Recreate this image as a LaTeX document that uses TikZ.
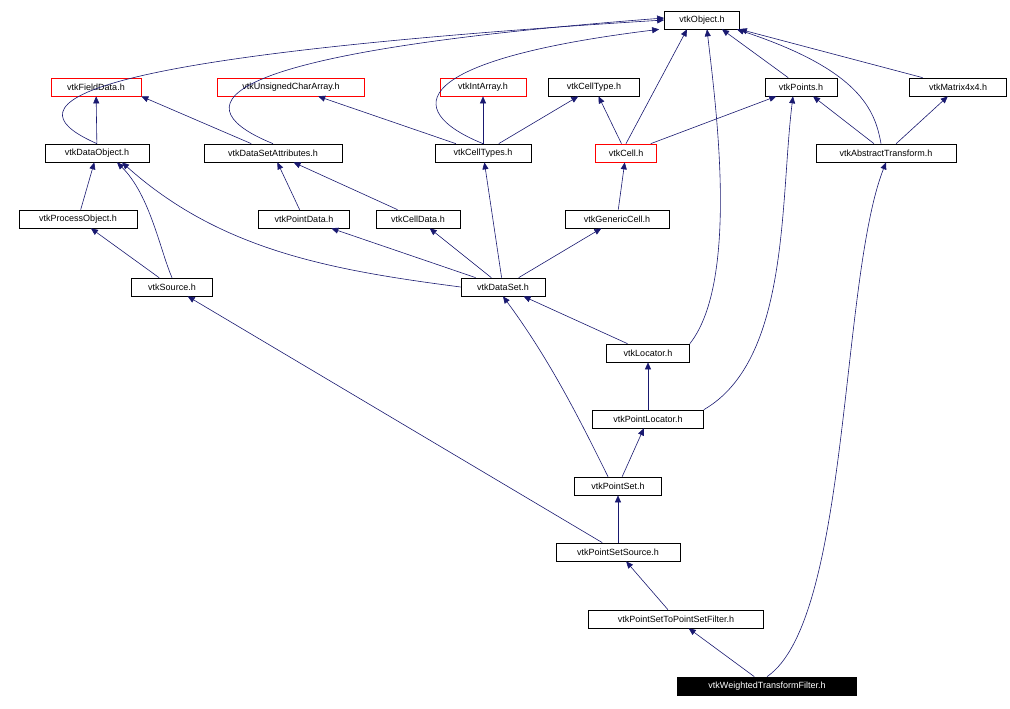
\documentclass[tikz,border=0pt]{standalone}
\usepackage{fontspec}
\setmainfont{Liberation Sans}
\usetikzlibrary{arrows.meta}
\definecolor{navy}{HTML}{191970}
\begin{document}
\begin{tikzpicture}[x=1pt,y=-1pt,
  box/.style={draw=black,fill=white,line width=0.7pt,minimum height=18pt,inner xsep=2pt,inner ysep=0pt,font=\fontsize{9}{10}\selectfont},
  rbox/.style={box,draw=red},
  edge/.style={draw=navy,line width=0.6pt,-{Triangle[length=7pt,width=6pt]}}]
\useasboundingbox (0,0) rectangle (1010,709);
\node[box,minimum width=75] (obj) at (702,20) {vtkObject.h};
\node[rbox,minimum width=90] (fd) at (96,87) {vtkFieldData.h};
\node[rbox,minimum width=147] (uca) at (291,87) {vtkUnsignedCharArray.h};
\node[rbox,minimum width=86] (ia) at (483,87) {vtkIntArray.h};
\node[box,minimum width=91] (ct) at (594,87) {vtkCellType.h};
\node[box,minimum width=72] (pts) at (801,87) {vtkPoints.h};
\node[box,minimum width=97] (mat) at (958,87) {vtkMatrix4x4.h};
\node[box,minimum width=104] (dobj) at (97,153) {vtkDataObject.h};
\node[box,minimum width=138] (dsa) at (273,153) {vtkDataSetAttributes.h};
\node[box,minimum width=96] (cts) at (483,153) {vtkCellTypes.h};
\node[rbox,minimum width=61] (cell) at (626,153) {vtkCell.h};
\node[box,minimum width=140] (at) at (886,153) {vtkAbstractTransform.h};
\node[box,minimum width=118] (po) at (78,219) {vtkProcessObject.h};
\node[box,minimum width=91] (pd) at (304,219) {vtkPointData.h};
\node[box,minimum width=84] (cd) at (418,219) {vtkCellData.h};
\node[box,minimum width=104] (gc) at (617,219) {vtkGenericCell.h};
\node[box,minimum width=81] (src) at (172,287) {vtkSource.h};
\node[box,minimum width=84] (ds) at (503,287) {vtkDataSet.h};
\node[box,minimum width=83] (loc) at (648,353) {vtkLocator.h};
\node[box,minimum width=111] (pl) at (648,419) {vtkPointLocator.h};
\node[box,minimum width=87] (ps) at (618,486) {vtkPointSet.h};
\node[box,minimum width=124] (pss) at (618,552) {vtkPointSetSource.h};
\node[box,minimum width=175] (flt) at (676,619) {vtkPointSetToPointSetFilter.h};
\node[box,fill=black,text=white,minimum width=179] (wtf) at (767,686) {vtkWeightedTransformFilter.h};
% to vtkObject
\draw[edge] (dobj.north) .. controls (20,110) and (20,60) .. (obj.west);
\draw[edge] (dsa.north) .. controls (190,110) and (180,55) .. ([yshift=2]obj.west);
\draw[edge] (cts.north) .. controls (400,110) and (410,60) .. ([xshift=-5]obj.south west);
\draw[edge] (cell.north) -- ([xshift=-15]obj.south);
\draw[edge] (loc.north east) .. controls (740,280) and (715,100) .. ([xshift=5]obj.south);
\draw[edge] (pts) -- ([xshift=20]obj.south);
\draw[edge] ([xshift=-5]at.north) .. controls (875,110) and (860,70) .. ([xshift=-3]obj.south east);
\draw[edge] (mat) -- (obj.south east);
% second level
\draw[edge] (dobj) -- (fd);
\draw[edge] (dsa) -- (fd.south east);
\draw[edge] (cts) -- (uca);
\draw[edge] (cts) -- (ia);
\draw[edge] (cts) -- (ct);
\draw[edge] (cell) -- (ct);
\draw[edge] (cell) -- (pts);
\draw[edge] (at) -- (pts);
\draw[edge] (at) -- (mat);
\draw[edge] (po) -- (dobj);
\draw[edge] (src.north) .. controls (160,250) and (150,195) .. ([xshift=20]dobj.south);
\draw[edge] (ds.west) .. controls (330,270) and (220,250) .. ([xshift=25]dobj.south);
\draw[edge] (pd) -- (dsa);
\draw[edge] (cd) -- (dsa);
\draw[edge] (ds) -- (cts);
\draw[edge] (gc) -- (cell);
\draw[edge] (src) -- (po);
\draw[edge] (ds) -- (pd);
\draw[edge] (ds) -- (cd);
\draw[edge] (ds) -- (gc);
\draw[edge] (loc) -- (ds);
\draw[edge] (pl) -- (loc);
\draw[edge] (pl.north east) .. controls (790,360) and (780,200) .. ([xshift=-8]pts.south);
\draw[edge] (ps) -- (pl);
\draw[edge] ([xshift=-10]ps.north) .. controls (580,420) and (550,360) .. (ds.south);
\draw[edge] (pss) -- (ps);
\draw[edge] (pss) -- (src);
\draw[edge] (flt) -- (pss);
\draw[edge] (wtf) -- (flt);
\draw[edge] (wtf.north) .. controls (850,620) and (840,280) .. (at.south);
\end{tikzpicture}
\end{document}
